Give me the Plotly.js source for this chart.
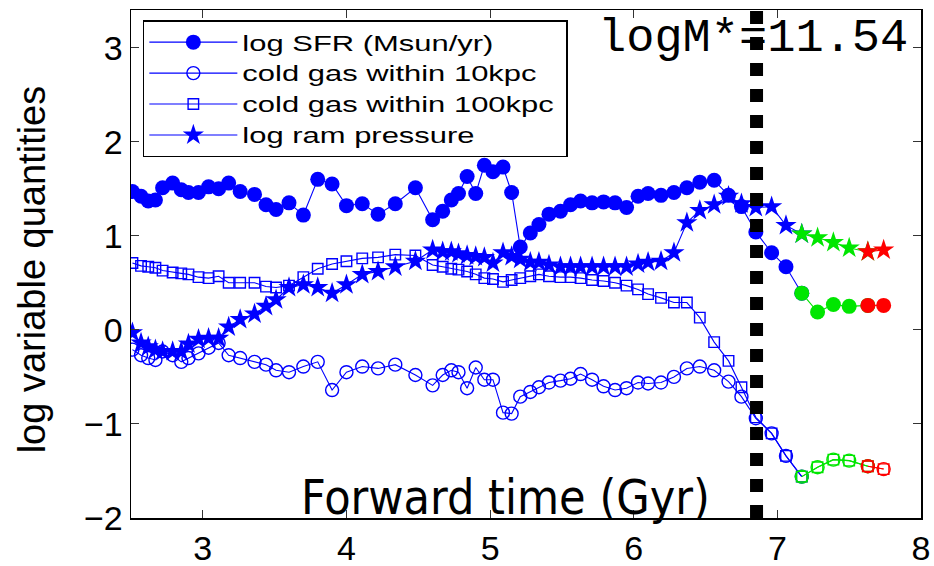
<!DOCTYPE html>
<html>
<head>
<meta charset="utf-8">
<script src="https://cdn.plot.ly/plotly-3.0.1.min.js"></script>
<style>html,body{margin:0;padding:0;background:#fff;}#chart{width:934px;height:566px;}</style>
</head>
<body>
<div id="chart"></div>
<script>
// Forward time (Gyr)
const time = [2.51,2.57,2.62,2.67,2.72,2.79,2.85,2.90,2.97,3.04,
  3.11,3.18,3.26,3.36,3.44,3.51,3.60,3.70,3.80,3.90,
  4.00,4.11,4.22,4.34,4.48,4.60,4.67,4.73,4.78,4.84,
  4.90,4.96,5.02,5.09,5.15,5.21,5.28,5.34,5.41,5.49,
  5.56,5.63,5.71,5.79,5.87,5.95,6.03,6.10,6.19,6.28,
  6.37,6.46,6.56,6.66,6.75,6.85,6.96,7.06,7.17,7.28,
  7.39,7.50,7.63,7.74];
// log SFR (Msun/yr)
const logSFR = [1.47,1.42,1.37,1.38,1.51,1.56,1.49,1.46,1.46,1.52,
  1.50,1.56,1.47,1.44,1.33,1.28,1.35,1.22,1.60,1.55,
  1.32,1.34,1.23,1.34,1.51,1.17,1.26,1.38,1.45,1.63,
  1.45,1.75,1.68,1.73,1.46,0.88,1.03,1.12,1.23,1.26,
  1.33,1.37,1.35,1.36,1.35,1.30,1.42,1.45,1.43,1.46,
  1.51,1.57,1.59,1.43,1.31,1.04,0.82,0.67,0.39,0.19,
  0.27,0.25,0.26,0.26];
// cold gas within 10kpc
const coldGas10 = [-0.21,-0.27,-0.30,-0.32,-0.23,-0.27,-0.34,-0.30,-0.25,-0.19,
  -0.14,-0.27,-0.30,-0.34,-0.37,-0.43,-0.45,-0.39,-0.34,-0.64,
  -0.45,-0.39,-0.41,-0.37,-0.48,-0.59,-0.48,-0.43,-0.45,-0.62,
  -0.40,-0.53,-0.53,-0.88,-0.89,-0.71,-0.66,-0.61,-0.56,-0.54,
  -0.52,-0.47,-0.53,-0.60,-0.64,-0.62,-0.56,-0.57,-0.56,-0.50,
  -0.41,-0.39,-0.43,-0.55,-0.71,-0.94,-1.10,-1.34,-1.56,-1.46,
  -1.38,-1.39,-1.45,-1.48];
// cold gas within 100kpc
const coldGas100 = [0.71,0.68,0.67,0.66,0.63,0.61,0.60,0.59,0.56,0.55,
  0.57,0.50,0.50,0.50,0.46,0.45,0.47,0.56,0.65,0.70,
  0.73,0.76,0.77,0.80,0.79,0.69,0.67,0.65,0.64,0.62,
  0.59,0.55,0.54,0.51,0.53,0.55,0.57,0.59,0.57,0.56,
  0.56,0.55,0.53,0.52,0.50,0.47,0.43,0.38,0.34,0.29,
  0.29,0.13,-0.13,-0.33,-0.61,-0.93,-1.10,-1.34,-1.56,-1.46,
  -1.38,-1.39,-1.45,-1.48];
// log ram pressure
const logRam = [-0.03,-0.14,-0.18,-0.21,-0.23,-0.23,-0.23,-0.15,-0.10,-0.09,
  -0.09,0.03,0.11,0.17,0.25,0.32,0.45,0.48,0.45,0.39,
  0.48,0.59,0.62,0.67,0.73,0.85,0.83,0.83,0.81,0.79,
  0.78,0.77,0.71,0.82,0.78,0.75,0.72,0.72,0.69,0.67,
  0.67,0.67,0.67,0.67,0.67,0.67,0.70,0.72,0.73,0.82,
  1.14,1.27,1.33,1.42,1.34,1.30,1.31,1.11,1.02,0.98,
  0.93,0.87,0.83,0.85];
const seriesNames = ['log SFR (Msun/yr)','cold gas within 10kpc','cold gas within 100kpc','log ram pressure'];
const xTicks = [3,4,5,6,7,8];
const yTicks = [-2,-1,0,1,2,3];
const massLabel = 'logM*=11.54';
const markerTime = 6.855;
// segment boundaries (index of first green point, index of first red point)
const greenStart = 58, redStart = 62;

const series = [
  {name: seriesNames[0], y: logSFR, symbol: 'circle', size: 15, lw: 0},
  {name: seriesNames[1], y: coldGas10, symbol: 'circle-open', size: 13, lw: 1.4},
  {name: seriesNames[2], y: coldGas100, symbol: 'square-open', size: 10.5, lw: 1.4},
  {name: seriesNames[3], y: logRam, symbol: 'star', size: 16, lw: 0}
];
const segs = [
  {color: 'rgb(0,0,255)', a: 0, b: greenStart + 1, legend: true},
  {color: 'rgb(0,230,0)', a: greenStart, b: redStart + 1, legend: false},
  {color: 'rgb(255,0,0)', a: redStart, b: time.length, legend: false}
];
const traces = [];
segs.forEach(sg => {
  series.forEach(s => {
    traces.push({
      x: time.slice(sg.a, sg.b), y: s.y.slice(sg.a, sg.b),
      type: 'scatter', mode: 'lines+markers', name: s.name,
      showlegend: sg.legend,
      line: {color: sg.color, width: 1.1},
      marker: {symbol: s.symbol, size: s.size, color: sg.color,
               line: {color: sg.color, width: s.lw}}
    });
  });
});

const axisCommon = {
  showgrid: false, zeroline: false, showline: true, linecolor: '#000', linewidth: 1.5,
  mirror: 'ticks', ticks: 'inside', ticklen: 8, tickwidth: 1, tickcolor: '#333',
  tickfont: {family: 'Liberation Sans, Arial, sans-serif', size: 34, color: '#000'}
};
const layout = {
  width: 934, height: 566,
  margin: {l: 131, r: 13, t: 10, b: 48},
  paper_bgcolor: '#fff', plot_bgcolor: '#fff',
  showlegend: true,
  xaxis: Object.assign({}, axisCommon, {range: [2.5, 8], tickvals: xTicks, ticktext: xTicks.map(String)}),
  yaxis: Object.assign({}, axisCommon, {range: [-2, 3.4], tickvals: yTicks, ticktext: yTicks.map(v => v < 0 ? '\u2212' + Math.abs(v) : String(v))}),
  legend: {x: 0.015, y: 0.98, xanchor: 'left', yanchor: 'top',
    bgcolor: '#fff', bordercolor: '#000', borderwidth: 1.5,
    font: {family: 'Liberation Sans, Arial, sans-serif', size: 21.5, color: '#000'},
    itemwidth: 88, tracegroupgap: 0},
  shapes: [{type: 'line', xref: 'x', yref: 'paper', x0: markerTime, x1: markerTime, y0: 0, y1: 1,
    line: {color: '#000', width: 13, dash: 'dot'}, layer: 'above'}],
  annotations: [
    {text: 'log variable quantities', xref: 'paper', yref: 'paper', x: -0.125, y: 0.49,
     xanchor: 'center', yanchor: 'middle', textangle: -90, showarrow: false,
     font: {family: 'Liberation Sans, Arial, sans-serif', size: 38, color: '#000'}},
    {text: 'Forward time (Gyr)', xref: 'paper', yref: 'paper', x: 0.474, y: -0.018,
     xanchor: 'center', yanchor: 'bottom', showarrow: false,
     font: {family: 'DejaVu Sans Condensed, DejaVu Sans, sans-serif', size: 48, color: '#000'}},
    {text: massLabel, xref: 'paper', yref: 'paper', x: 0.589, y: 1.0,
     xanchor: 'left', yanchor: 'top', showarrow: false,
     font: {family: 'Liberation Mono, Courier New, monospace', size: 47, color: '#000'}}
  ]
};
const gd = document.getElementById('chart');
Plotly.newPlot(gd, traces, layout, {displayModeBar: false, staticPlot: true}).then(() => {
  // widen legend text horizontally, as in the original figure
  const S = 1.44;
  let maxRight = 0;
  gd.querySelectorAll('.legend .legendtext').forEach(t => {
    const x = parseFloat(t.getAttribute('x')) || 0;
    t.setAttribute('transform', 'translate(' + x + ',0) scale(' + S + ',1) translate(' + (-x) + ',0)');
    const w = t.getComputedTextLength();
    maxRight = Math.max(maxRight, x + w * S);
  });
  const newW = maxRight + 14;
  const bg = gd.querySelector('.legend .bg');
  if (bg) bg.setAttribute('width', newW);
  gd.querySelectorAll('clipPath').forEach(cp => {
    if (cp.id && cp.id.indexOf('legend') === 0) {
      const r = cp.querySelector('rect');
      if (r) r.setAttribute('width', newW);
    }
  });
});
</script>
</body>
</html>
